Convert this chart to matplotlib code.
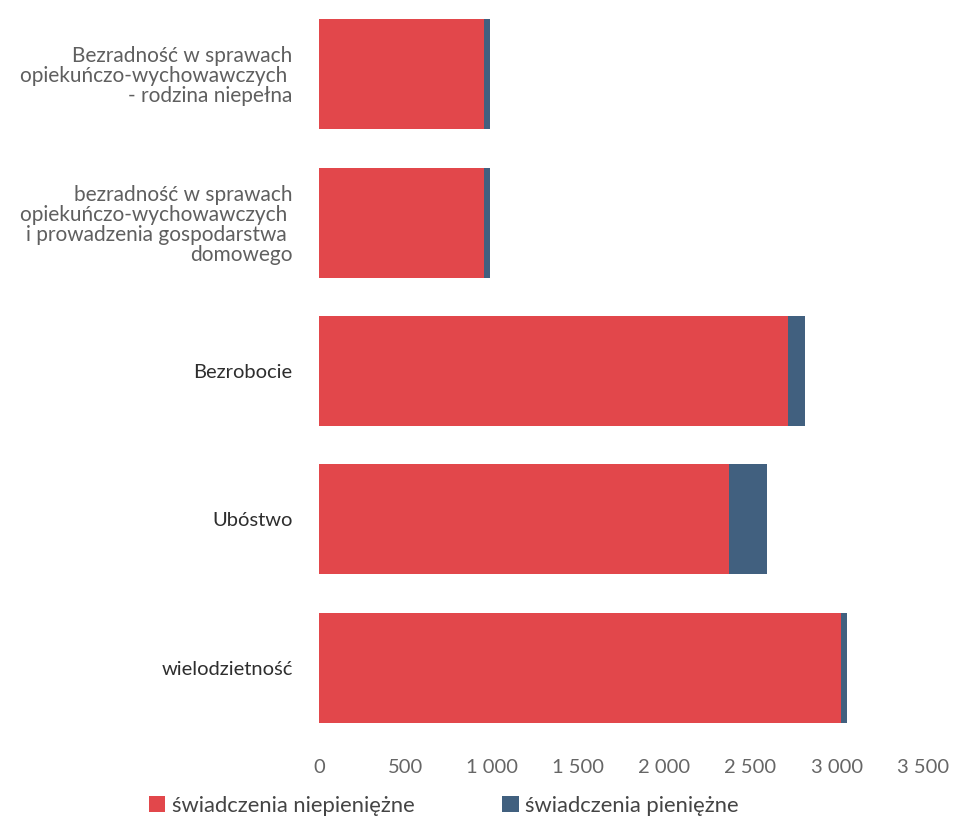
import matplotlib
matplotlib.use("Agg")
import matplotlib.pyplot as plt
import numpy as np
from matplotlib.patches import Patch

categories = [
    "Bezradność w sprawach\nopiekuńczo-wychowawczych \n- rodzina niepełna",
    "bezradność w sprawach\nopiekuńczo-wychowawczych \ni prowadzenia gospodarstwa \ndomowego",
    "Bezrobocie",
    "Ubóstwo",
    "wielodzietność",
]
niepieniezne = [955, 958, 2720, 2378, 3027]
pieniezne = [35, 35, 98, 220, 30]
xticks = [0, 500, 1000, 1500, 2000, 2500, 3000, 3500]
xtick_labels = ["0", "500", "1 000", "1 500", "2 000", "2 500", "3 000", "3 500"]
series_names = ["świadczenia niepieniężne", "świadczenia pieniężne"]

red = "#E2474B"
blue = "#41607F"

plt.rcParams['font.family'] = ['Lato', 'DejaVu Sans']

fig = plt.figure(figsize=(9.57, 8.24), dpi=100)
ax = fig.add_axes([319/957, 1 - 742/824, (923-319)/957, 742/824])

y = np.arange(len(categories))
ax.barh(y, niepieniezne, height=0.74, color=red, edgecolor='none')
ax.barh(y, pieniezne, left=niepieniezne, height=0.74, color=blue, edgecolor='none')

ax.set_xlim(0, 3500)
ax.set_ylim(len(categories) - 0.5, -0.5)
ax.set_yticks(y)
ax.set_yticklabels(categories, fontsize=15, linespacing=1.0)
label_colors = ["#5f5f5f", "#5f5f5f", "#2e2e2e", "#2e2e2e", "#2e2e2e"]
sizes = [15, 15, 14.5, 14.5, 14.5]
for lbl, c, s in zip(ax.get_yticklabels(), label_colors, sizes):
    lbl.set_color(c)
    lbl.set_fontsize(s)
    lbl.set_horizontalalignment('right')
ax.set_xticks(xticks)
ax.set_xticklabels(xtick_labels, fontsize=14.5, color="#666666")
ax.tick_params(axis='both', length=0)
ax.tick_params(axis='y', pad=19)
ax.tick_params(axis='x', pad=12)
for s in ax.spines.values():
    s.set_visible(False)

handles = [Patch(facecolor=red, edgecolor='none'), Patch(facecolor=blue, edgecolor='none')]
fig.legend(handles, series_names, loc='center', bbox_to_anchor=(444/957, 1 - 806/824),
           ncol=2, frameon=False, fontsize=15.8, handlelength=0.75, handleheight=0.75,
           handletextpad=0.3, columnspacing=4.0, labelcolor="#444444")

fig.savefig("out.png", dpi=100, facecolor='white')
